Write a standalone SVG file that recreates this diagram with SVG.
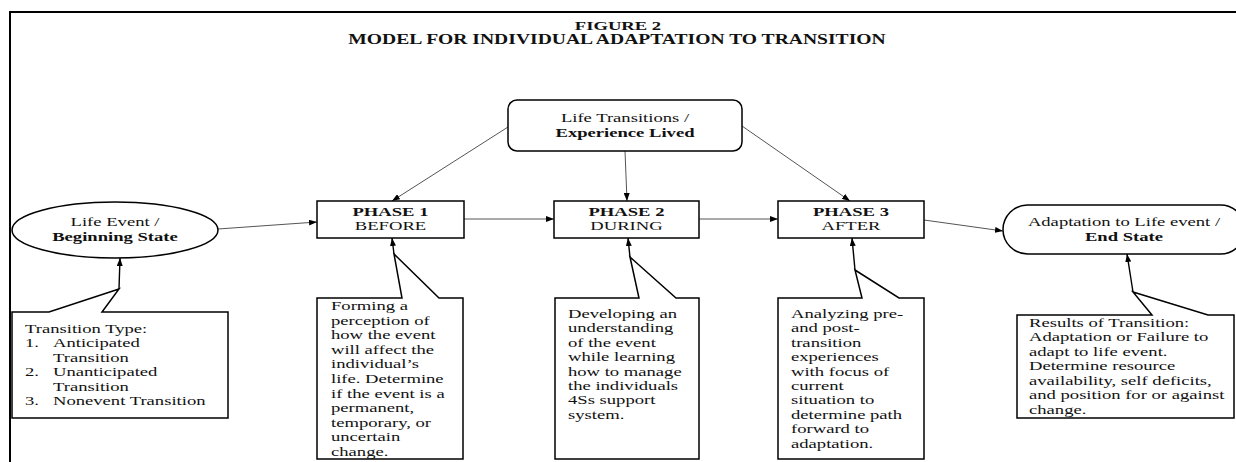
<svg xmlns="http://www.w3.org/2000/svg" width="1236" height="462" viewBox="0 0 1236 462">
<style>
.t{font-family:"Liberation Serif","Times New Roman",serif;font-size:13.5px;fill:#111}
.b{font-weight:bold}
.m{text-anchor:middle}
.box{fill:#fff;stroke:#000;stroke-width:1.5}
.conn{stroke:#555;stroke-width:1;fill:none;marker-end:url(#ah)}
.ptr{stroke:#000;stroke-width:1.4;fill:none;marker-end:url(#ah)}
</style>
<defs>
<marker id="ah" markerWidth="8" markerHeight="6" refX="8" refY="3" orient="auto" markerUnits="userSpaceOnUse"><path d="M0,0 L8,3 L0,6 z" fill="#000"/></marker>
</defs>
<rect x="0" y="0" width="1236" height="462" fill="#fff"/>
<rect x="10" y="12" width="1240" height="470" fill="none" stroke="#000" stroke-width="2"/>
<g id="title">
<text class="t b m" transform="translate(618,30) scale(1.38,1)">FIGURE 2</text>
<text class="t b m" style="font-size:14px" transform="translate(617,44) scale(1.4,1)">MODEL FOR INDIVIDUAL ADAPTATION TO TRANSITION</text>
</g>
<g id="connectors">
<line class="conn" x1="218" y1="229" x2="317" y2="222"/>
<line class="conn" x1="464" y1="219" x2="554" y2="219"/>
<line class="conn" x1="699" y1="219" x2="778" y2="219"/>
<line class="conn" x1="924" y1="220" x2="1003" y2="231"/>
<line class="conn" x1="508" y1="127" x2="392" y2="201"/>
<line class="conn" x1="625" y1="151" x2="627" y2="201"/>
<line class="conn" x1="742" y1="126" x2="850" y2="201"/>
</g>
<g id="life-transitions">
<rect class="box" x="508" y="100" width="234" height="51" rx="9"/>
<text class="t m" transform="translate(625,122) scale(1.38,1)">Life Transitions /</text>
<text class="t b m" transform="translate(625,137) scale(1.38,1)">Experience Lived</text>
</g>
<g id="life-event">
<ellipse class="box" cx="115" cy="230" rx="103" ry="28"/>
<text class="t m" transform="translate(115,226) scale(1.38,1)">Life Event /</text>
<text class="t b m" transform="translate(115,241) scale(1.38,1)">Beginning State</text>
</g>
<g id="phase1">
<rect class="box" x="317" y="201" width="147" height="37"/>
<text class="t b m" transform="translate(390.5,216) scale(1.38,1)">PHASE 1</text>
<text class="t m" transform="translate(390.5,230) scale(1.38,1)">BEFORE</text>
</g>
<g id="phase2">
<rect class="box" x="554" y="201" width="145" height="37"/>
<text class="t b m" transform="translate(626.5,216) scale(1.38,1)">PHASE 2</text>
<text class="t m" transform="translate(626.5,230) scale(1.38,1)">DURING</text>
</g>
<g id="phase3">
<rect class="box" x="778" y="201" width="146" height="37"/>
<text class="t b m" transform="translate(851,216) scale(1.38,1)">PHASE 3</text>
<text class="t m" transform="translate(851,230) scale(1.38,1)">AFTER</text>
</g>
<g id="end-state">
<rect class="box" x="1003" y="205" width="242" height="49" rx="24.5"/>
<text class="t m" transform="translate(1124,226) scale(1.38,1)">Adaptation to Life event /</text>
<text class="t b m" transform="translate(1124,241) scale(1.38,1)">End State</text>
</g>
<g id="callout-transition-type">
<polygon class="box" points="12,312 49,312 119,289 102,312 228,312 228,418 12,418"/>
<line class="ptr" x1="119" y1="289" x2="120" y2="258"/>
<text class="t" transform="translate(25,333) scale(1.38,1)"><tspan x="0" y="0">Transition Type:</tspan><tspan x="0" y="14.5">1.</tspan><tspan x="20.3" y="14.5">Anticipated</tspan><tspan x="20.3" y="29">Transition</tspan><tspan x="0" y="43.5">2.</tspan><tspan x="20.3" y="43.5">Unanticipated</tspan><tspan x="20.3" y="58">Transition</tspan><tspan x="0" y="72.5">3.</tspan><tspan x="20.3" y="72.5">Nonevent Transition</tspan></text>
</g>
<g id="callout-before">
<polygon class="box" points="317,298 402,298 394,254 439,298 463,298 463,459 317,459"/>
<line class="ptr" x1="394" y1="254" x2="392" y2="238"/>
<text class="t" transform="translate(331,310) scale(1.38,1)"><tspan x="0" y="0">Forming a</tspan><tspan x="0" dy="14.6">perception of</tspan><tspan x="0" dy="14.6">how the event</tspan><tspan x="0" dy="14.6">will affect the</tspan><tspan x="0" dy="14.6">individual’s</tspan><tspan x="0" dy="14.6">life.  Determine</tspan><tspan x="0" dy="14.6">if the event is a</tspan><tspan x="0" dy="14.6">permanent,</tspan><tspan x="0" dy="14.6">temporary, or</tspan><tspan x="0" dy="14.6">uncertain</tspan><tspan x="0" dy="14.6">change.</tspan></text>
</g>
<g id="callout-during">
<polygon class="box" points="555,298 639,298 630,257 676,298 699,298 699,459 555,459"/>
<line class="ptr" x1="630" y1="257" x2="628" y2="238"/>
<text class="t" transform="translate(568,318) scale(1.38,1)"><tspan x="0" y="0">Developing an</tspan><tspan x="0" dy="14.4">understanding</tspan><tspan x="0" dy="14.4">of the event</tspan><tspan x="0" dy="14.4">while learning</tspan><tspan x="0" dy="14.4">how to manage</tspan><tspan x="0" dy="14.4">the individuals</tspan><tspan x="0" dy="14.4">4Ss support</tspan><tspan x="0" dy="14.4">system.</tspan></text>
</g>
<g id="callout-after">
<polygon class="box" points="778,298 862,298 855,270 899,298 924,298 924,459 778,459"/>
<line class="ptr" x1="855" y1="270" x2="852" y2="238"/>
<text class="t" transform="translate(791,318) scale(1.38,1)"><tspan x="0" y="0">Analyzing pre-</tspan><tspan x="0" dy="14.4">and post-</tspan><tspan x="0" dy="14.4">transition</tspan><tspan x="0" dy="14.4">experiences</tspan><tspan x="0" dy="14.4">with focus of</tspan><tspan x="0" dy="14.4">current</tspan><tspan x="0" dy="14.4">situation to</tspan><tspan x="0" dy="14.4">determine path</tspan><tspan x="0" dy="14.4">forward to</tspan><tspan x="0" dy="14.4">adaptation.</tspan></text>
</g>
<g id="callout-results">
<polygon class="box" points="1017,315 1152,315 1133,292 1208,315 1234,315 1234,418 1017,418"/>
<line class="ptr" x1="1133" y1="292" x2="1127" y2="254"/>
<text class="t" transform="translate(1029,327) scale(1.38,1)"><tspan x="0" y="0">Results of Transition:</tspan><tspan x="0" dy="14.5">Adaptation or Failure to</tspan><tspan x="0" dy="14.5">adapt to life event.</tspan><tspan x="0" dy="14.5">Determine resource</tspan><tspan x="0" dy="14.5">availability,  self deficits,</tspan><tspan x="0" dy="14.5">and position for or against</tspan><tspan x="0" dy="14.5">change.</tspan></text>
</g>
</svg>
